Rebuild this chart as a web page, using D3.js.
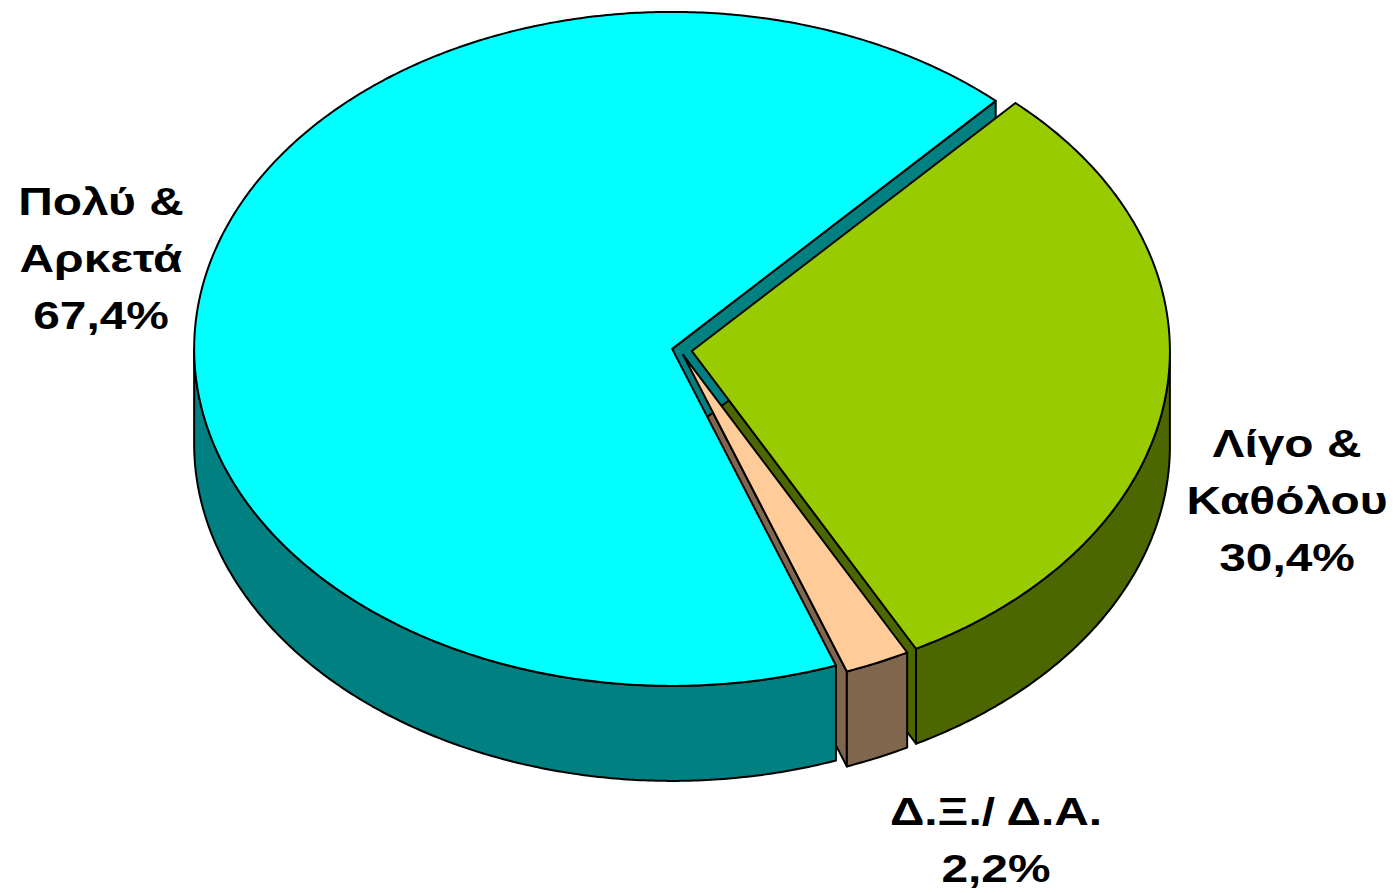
<!DOCTYPE html>
<html><head><meta charset="utf-8">
<script src="https://cdn.jsdelivr.net/npm/d3@7"></script>
<style>html,body{margin:0;padding:0;background:#fff;}svg{display:block;}</style>
</head><body>
<svg id="chart" width="1393" height="893"></svg>
<script>
const categories = ["Λίγο & Καθόλου", "Δ.Ξ./ Δ.Α.", "Πολύ & Αρκετά"];
const values = [30.4, 2.2, 67.4];
const valueLabels = ["30,4%", "2,2%", "67,4%"];
const labelLines = [["Λίγο &", "Καθόλου"], ["Δ.Ξ./ Δ.Α."], ["Πολύ &", "Αρκετά"]];

const topColors = ["#99CC00", "#FFCC99", "#00FFFF"];
const sideColors = ["#4C6600", "#80664D", "#008080"];
const explode = [12, 7.5, 8];

const svg = d3.select("#chart");
const cx = 680, cy = 350, rx = 478, ry = 337, depth = 95;
const deg = Math.PI / 180;
const start = 42.6 * deg;

const pie = d3.pie().sort(null).value(d => d).startAngle(start).endAngle(start + 2 * Math.PI);
const arcs = pie(values);

// angle θ measured clockwise from 12 o'clock
const pt = (c, th, dz = 0) => [c[0] + rx * Math.sin(th), c[1] - ry * Math.cos(th) + dz];

arcs.forEach((a, i) => {
  const mid = (a.startAngle + a.endAngle) / 2;
  a.center = [cx + explode[i] * Math.sin(mid), cy - explode[i] * Math.cos(mid) * (ry / rx)];
});

function arcPts(c, a0, a1, dz) {
  const n = Math.max(2, Math.ceil(Math.abs(a1 - a0) / (0.5 * deg)));
  return d3.range(n + 1).map(k => pt(c, a0 + (a1 - a0) * k / n, dz));
}
const line = d3.line();

const gCut = svg.append("g"), gWall = svg.append("g"), gTop = svg.append("g");

arcs.forEach((a, i) => {
  const c = a.center;
  const faces = [];
  if (Math.sin(a.endAngle) > 0) faces.push(a.endAngle);
  if (Math.sin(a.startAngle) < 0) faces.push(a.startAngle);
  faces.forEach(th => {
    const p = pt(c, th);
    const pts = [c, p, [p[0], p[1] + depth], [c[0], c[1] + depth]];
    gCut.append("path").attr("d", line(pts) + "Z")
      .attr("fill", sideColors[i]).attr("stroke", "#000").attr("stroke-width", 2).attr("stroke-linejoin", "round");
  });
  [0, 2 * Math.PI].forEach(off => {
    const lo = Math.max(a.startAngle, 90 * deg + off);
    const hi = Math.min(a.endAngle, 270 * deg + off);
    if (hi > lo) {
      const topA = arcPts(c, lo, hi, 0);
      const botA = arcPts(c, hi, lo, depth);
      gWall.append("path").attr("d", line(topA.concat(botA)) + "Z")
        .attr("fill", sideColors[i]).attr("stroke", "#000").attr("stroke-width", 2).attr("stroke-linejoin", "round");
    }
  });
  const topPts = [c].concat(arcPts(c, a.startAngle, a.endAngle, 0));
  gTop.append("path").attr("d", line(topPts) + "Z")
    .attr("fill", topColors[i]).attr("stroke", "#000").attr("stroke-width", 2).attr("stroke-linejoin", "round");
});

// labels
const labelPos = [
  {x: 1287, y: 457},
  {x: 996, y: 825},
  {x: 101, y: 215}
];
const lh = 57;
const stretch = 1.26;
const gLab = svg.append("g")
  .attr("font-family", "'Liberation Sans', Arial, sans-serif")
  .attr("font-weight", "bold").attr("font-size", 38).attr("fill", "#000")
  .attr("text-anchor", "middle");
categories.forEach((c, i) => {
  const lines = labelLines[i].concat([valueLabels[i]]);
  const t = gLab.append("text")
    .attr("transform", `translate(${labelPos[i].x},${labelPos[i].y}) scale(${stretch},1)`)
    .attr("x", 0).attr("y", 0);
  lines.forEach((l, k) => {
    t.append("tspan").attr("x", 0).attr("dy", k === 0 ? 0 : lh).text(l);
  });
});
</script>
</body></html>
